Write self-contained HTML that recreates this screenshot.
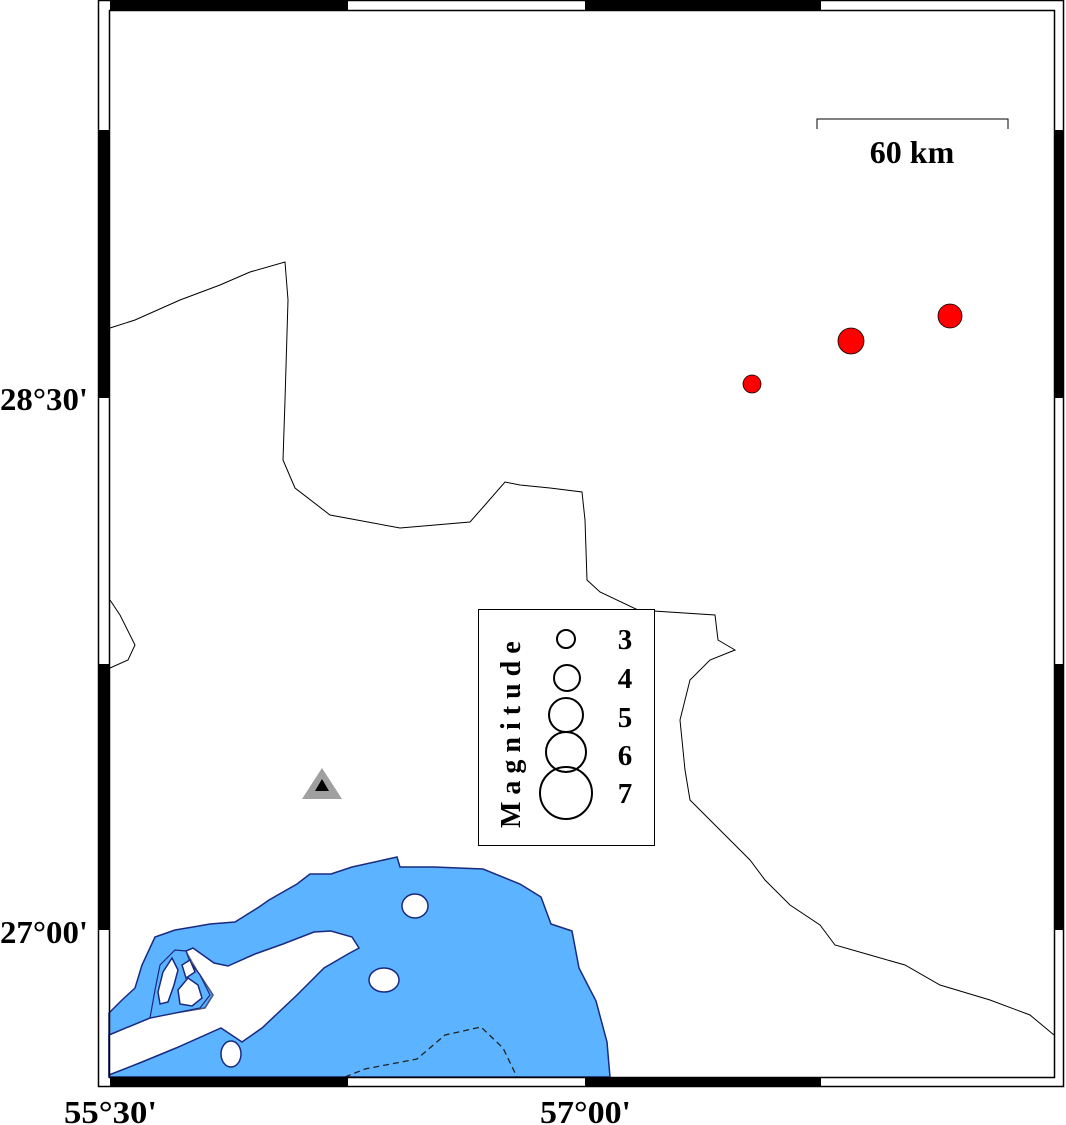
<!DOCTYPE html>
<html><head><meta charset="utf-8"><style>
html,body{margin:0;padding:0;background:#fff;}
svg{display:block;}
</style></head><body>
<svg width="1066" height="1125" viewBox="0 0 1066 1125" xmlns="http://www.w3.org/2000/svg">
<rect width="1066" height="1125" fill="#fff"/>
<!-- water -->
<path d="M109,1013 L122,1000 L135,988 L142,965 L155,937 L175,930 L193,927 L210,924 L235,922 L259,907 L269,900 L297,884 L310,874 L331,874 L352,867 L397,857 L400,867 L434,867 L483,869 L520,884 L541,897 L551,924 L572,931 L579,968 L596,1001 L607,1042 L610,1077 L109,1077 Z" fill="#5cb3ff" stroke="#1a2a80" stroke-width="1.5"/>
<!-- peninsula land -->
<path d="M109,1035 L150,1018 L175,1013 L205,1008 L213,995 L200,975 L190,961 L186,951 L193,948 L214,963 L228,966 L255,954 L283,944 L314,932 L331,931 L352,937 L359,948 L348,954 L324,968 L297,995 L262,1028 L242,1042 L221,1028 L176,1048 L142,1062 L109,1075 Z" fill="#fff" stroke="#1a2a80" stroke-width="1.5"/>
<path d="M186,951 L200,975 L213,995 L205,1008 L175,1013 L150,1018" fill="none" stroke="#666" stroke-width="0.8"/>
<!-- lagoon water and islands -->
<path d="M150,1018 L155,990 L160,965 L175,950 L186,951 L190,962 L200,975 L210,995 L200,1008 L175,1013 Z" fill="#5cb3ff" stroke="#1a2a80" stroke-width="1.2"/>
<path d="M158,992 L163,972 L172,958 L178,970 L174,985 L168,1002 L160,1004 Z" fill="#fff" stroke="#1a2a80" stroke-width="1.5"/>
<path d="M178,990 L188,978 L198,985 L202,998 L192,1006 L180,1004 Z" fill="#fff" stroke="#1a2a80" stroke-width="1.5"/>
<path d="M182,965 L190,960 L195,972 L186,978 Z" fill="#fff" stroke="#1a2a80" stroke-width="1.5"/>
<!-- islands -->
<ellipse cx="415" cy="906" rx="13" ry="12" fill="#fff" stroke="#1a2a80" stroke-width="1.5"/>
<ellipse cx="384" cy="980" rx="15" ry="12" fill="#fff" stroke="#1a2a80" stroke-width="1.5"/>
<ellipse cx="231" cy="1054" rx="10" ry="13" fill="#fff" stroke="#1a2a80" stroke-width="1.5"/>
<!-- dashed -->
<path d="M345,1077 L365,1069 L417,1059 L445,1035 L481,1027 L503,1048 L517,1077" fill="none" stroke="#222" stroke-width="1.3" stroke-dasharray="6,4"/>
<!-- borders -->
<path d="M110,328 L135,320 L180,300 L220,285 L250,272 L285,262 L288,300 L285,400 L283,460 L295,488 L330,515 L400,528 L470,522 L485,505 L505,482 L520,485 L550,488 L582,492 L585,520 L587,580 L600,592 L638,610 L715,615 L718,640 L735,650 L710,660 L690,680 L680,720 L685,770 L690,800 L720,830 L750,860 L765,880 L790,905 L820,925 L835,945 L870,955 L905,965 L940,985 L990,1000 L1030,1015 L1054,1035" fill="none" stroke="#000" stroke-width="1"/>
<path d="M110,600 L120,615 L135,645 L128,660 L110,668" fill="none" stroke="#000" stroke-width="1"/>
<!-- frame -->
<rect x="98.5" y="0.5" width="965" height="1086" fill="none" stroke="#000" stroke-width="1.5"/>
<rect x="109.5" y="10.5" width="945" height="1067" fill="none" stroke="#000" stroke-width="1.5"/>
<g fill="#000">
<rect x="110" y="0" width="238" height="10"/><rect x="585" y="0" width="236" height="10"/>
<rect x="110" y="1077" width="238" height="10"/><rect x="585" y="1077" width="236" height="10"/>
<rect x="98" y="130" width="12" height="268"/><rect x="98" y="664" width="12" height="266"/>
<rect x="1054" y="130" width="10" height="268"/><rect x="1054" y="664" width="10" height="266"/>
</g>
<!-- scale bar -->
<path d="M817,129 L817,119 L1008,119 L1008,129" fill="none" stroke="#000" stroke-width="1"/>
<text x="912" y="163" font-family="Liberation Serif,serif" font-weight="bold" font-size="32" text-anchor="middle">60 km</text>
<!-- quakes -->
<circle cx="752" cy="384" r="9" fill="#f00" stroke="#000" stroke-width="0.8"/>
<circle cx="851" cy="341" r="13" fill="#f00" stroke="#000" stroke-width="0.8"/>
<circle cx="950" cy="316" r="12" fill="#f00" stroke="#000" stroke-width="0.8"/>
<!-- station -->
<polygon points="322,768 342,799 302,799" fill="#a0a0a0"/>
<polygon points="322,779 329,791 315,791" fill="#000"/>
<!-- legend -->
<rect x="478.5" y="609.5" width="176" height="236" fill="#fff" stroke="#000" stroke-width="1"/>
<text transform="translate(520,828) rotate(-90)" font-family="Liberation Serif,serif" font-weight="bold" font-size="28" letter-spacing="7">Magnitude</text>
<g fill="none" stroke="#000" stroke-width="2">
<circle cx="566" cy="639" r="9"/><circle cx="567" cy="678" r="13"/><circle cx="566" cy="715" r="17"/><circle cx="566" cy="752" r="20"/><circle cx="566" cy="793" r="26"/>
</g>
<g font-family="Liberation Serif,serif" font-weight="bold" font-size="29" text-anchor="middle">
<text x="625" y="649">3</text><text x="625" y="688">4</text><text x="625" y="727">5</text><text x="625" y="765">6</text><text x="625" y="803">7</text>
</g>
<!-- axis labels -->
<g font-family="Liberation Serif,serif" font-weight="bold" font-size="32">
<text x="0" y="410" textLength="88" lengthAdjust="spacingAndGlyphs">28°30'</text>
<text x="0" y="943" textLength="88" lengthAdjust="spacingAndGlyphs">27°00'</text>
<text x="64" y="1123" textLength="93" lengthAdjust="spacingAndGlyphs">55°30'</text>
<text x="540" y="1123" textLength="91" lengthAdjust="spacingAndGlyphs">57°00'</text>
</g>
</svg>
</body></html>
